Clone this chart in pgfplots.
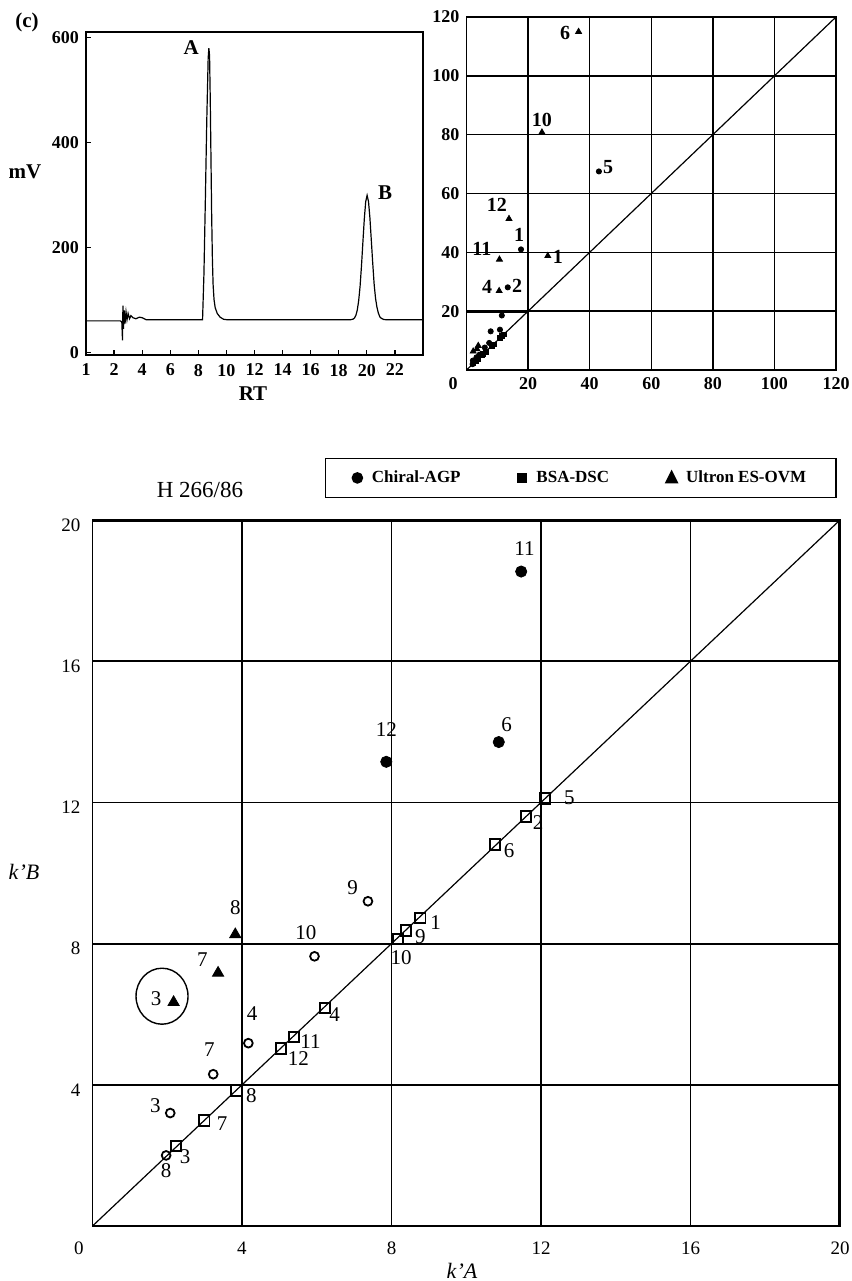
\documentclass[border=0pt]{standalone}
\usepackage{fontspec}
\setmainfont{Liberation Serif}
\usepackage{pgfplots}
\pgfplotsset{compat=1.18}
\newcommand{\fs}[1]{\fontsize{#1}{#1}\selectfont}
\begin{document}
\begin{tikzpicture}
\useasboundingbox (0,0) rectangle (426pt,-640.5pt);

% ---------------- Panel 1: chromatogram ----------------
\begin{axis}[
 at={(43pt,-177.5pt)}, anchor=south west,
 scale only axis, width=168.5pt, height=161.5pt,
 xmin=0, xmax=24, ymin=-5, ymax=610,
 xtick={0,2,...,22}, xticklabels={1,2,4,6,8,10,12,14,16,18,20,22},
 ytick={0,200,400,600},
 /pgf/number format/assume math mode=true,
 tick label style={font=\fs{9}\bfseries},
 xticklabel style={yshift=-1pt},
 tick align=inside, major tick length=2.5pt,
 xtick pos=bottom, ytick pos=left,
 axis line style={line width=0.7pt},
 tick style={line width=0.6pt, black},
]
\addplot[black, line width=0.6pt] coordinates {
(0,60) (2.45,60) (2.55,58) (2.60,23) (2.63,89) (2.67,45) (2.72,80) (2.78,55) (2.85,77) (2.92,62) (3.0,74) (3.1,64) (3.2,70) (3.35,66) (3.55,64) (3.8,67) (4.0,66) (4.3,62)
(8.30,62) (8.40,150) (8.50,290) (8.60,440) (8.70,560) (8.75,579) (8.80,565) (8.85,480) (8.90,370) (8.95,260) (9.00,180) (9.05,130) (9.12,100) (9.20,85) (9.35,74) (9.55,67) (9.80,63) (10.1,62)
(18.8,62) (19.02,63.3) (19.12,65.5) (19.22,70.5) (19.32,80.5) (19.42,98.5) (19.52,126) (19.62,165) (19.72,210) (19.82,254) (19.92,287) (20.02,299) (20.12,287) (20.22,256) (20.32,213) (20.42,170) (20.52,130) (20.62,103) (20.72,86) (20.82,75) (20.92,68) (21.02,65) (21.22,62.5) (21.5,62) (24,62)
};
\node[font=\fs{10.5}\bfseries] at (axis cs:7.5,581) {A};
\node[font=\fs{10.5}\bfseries] at (axis cs:21.3,304) {B};
\end{axis}
\node[font=\fs{10.5}\bfseries] at (13.5pt,-11pt) {(c)};
\node[font=\fs{10.5}\bfseries] at (12.5pt,-86pt) {mV};
\node[font=\fs{10.5}\bfseries] at (126.5pt,-197pt) {RT};

% ---------------- Panel 2: overview scatter ----------------
\begin{axis}[
 at={(233.25pt,-185pt)}, anchor=south west,
 scale only axis, width=184.75pt, height=176.5pt,
 xmin=0, xmax=120, ymin=0, ymax=120,
 xtick={0,20,...,120}, ytick={20,40,...,120},
 xticklabels={\llap{0\hspace{4.5pt}},20,40,60,80,100,120},
 /pgf/number format/assume math mode=true,
 tick label style={font=\fs{9}\bfseries},
 grid=major, major grid style={black, line width=0.7pt},
 major tick length=0pt,
 axis line style={line width=0.7pt},
]
\addplot[black, line width=0.6pt] coordinates {(0,0) (120,120)};
\draw[line width=1.4pt] (axis cs:0,20) -- (axis cs:20,20) -- (axis cs:20,0);
% Ultron ES-OVM
\addplot[only marks, mark=triangle*, mark size=1.7pt, black] coordinates {
(36.4,115) (24.5,80.8) (13.8,51.4) (10.7,37.6) (26.4,38.8) (10.6,26.9)
(3.82,8.26) (3.36,7.17) (2.17,6.34)};
% Chiral-AGP
\addplot[only marks, mark=*, mark size=1.3pt, black] coordinates {
(43.0,67.5) (17.7,41) (13.4,28.1) (11.47,18.54) (10.87,13.71) (7.86,13.15)
(7.37,9.2) (5.94,7.64) (4.17,5.18) (3.23,4.30) (2.08,3.2) (1.97,2.0)};
% BSA-DSC
\addplot[only marks, mark=square*, mark size=1.2pt, black] coordinates {
(8.77,8.72) (11.6,11.6) (2.23,2.27) (6.22,6.18) (12.1,12.11) (10.77,10.81)
(2.99,2.99) (3.85,3.84) (8.39,8.37) (8.17,8.12) (5.39,5.35) (5.04,5.03)};
\begin{scope}[font=\fs{10}\bfseries]
\node at (axis cs:32.0,114.6) {6};
\node at (axis cs:24.5,85) {10};
\node at (axis cs:46.0,69) {5};
\node at (axis cs:9.9,56.1) {12};
\node at (axis cs:17.1,45.9) {1};
\node at (axis cs:5.0,41.2) {11};
\node at (axis cs:29.7,38.4) {1};
\node at (axis cs:6.7,28.2) {4};
\node at (axis cs:16.4,28.6) {2};
\end{scope}
\end{axis}

% ---------------- Panel 3: main k'A vs k'B ----------------
\begin{axis}[
 at={(46.25pt,-613pt)}, anchor=south west,
 scale only axis, width=373.75pt, height=353pt,
 xmin=0, xmax=20, ymin=0, ymax=20,
 xtick={0,4,...,20}, ytick={4,8,...,20},
 xticklabels={\llap{0\hspace{4.5pt}},4,8,12,16,20},
 /pgf/number format/assume math mode=true,
 tick label style={font=\fs{9.5}},
 xticklabel style={yshift=-4.5pt},
 yticklabel style={xshift=-2.5pt, yshift=-2.5pt},
 grid=major, major grid style={black, line width=0.9pt},
 major tick length=0pt,
 axis line style={line width=0.8pt},
 legend columns=3,
 legend style={at={(rel axis cs:0.996,1.031)}, anchor=south east,
   draw=black, line width=0.8pt, inner xsep=13pt, inner ysep=4pt,
   font=\fs{8.5}\bfseries,
   /tikz/every even column/.append style={column sep=26pt}},
 legend cell align=left,
]
\addlegendimage{legend image code/.code={\fill (0.1cm,0cm) circle (2.5pt); \path (0.27cm,0cm);}}
\addlegendentry{Chiral-AGP}
\addlegendimage{legend image code/.code={\fill (0.1cm,0cm) ++(-2.3pt,-2.3pt) rectangle ++(4.6pt,4.6pt); \path (0.27cm,0cm);}}
\addlegendentry{BSA-DSC}
\addlegendimage{legend image code/.code={\fill (0.1cm,0cm) ++(-2.8pt,-2.3pt) -- ++(5.6pt,0) -- ++(-2.8pt,5.6pt) -- cycle; \path (0.27cm,0cm);}}
\addlegendentry{Ultron ES-OVM}

\addplot[forget plot, black, line width=0.6pt] coordinates {(0,0) (20,20)};
% BSA-DSC (open squares)
\addplot[forget plot, only marks, mark=square, mark size=2.6pt, black, mark options={line width=0.9pt}] coordinates {
(8.77,8.72) (11.6,11.6) (2.23,2.27) (6.22,6.18) (12.1,12.11) (10.77,10.81)
(2.99,2.99) (3.85,3.84) (8.39,8.37) (8.17,8.12) (5.39,5.35) (5.04,5.03)};
% open circles
\addplot[forget plot, only marks, mark=o, mark size=2.2pt, black, mark options={line width=0.9pt}] coordinates {
(7.37,9.2) (5.94,7.64) (4.17,5.18) (3.23,4.30) (2.08,3.2) (1.97,2.0)};
% Chiral-AGP (filled circles)
\addplot[forget plot, only marks, mark=*, mark size=2.8pt, black] coordinates {
(11.47,18.54) (10.87,13.71) (7.86,13.15)};
% Ultron ES-OVM (filled triangles)
\addplot[forget plot, only marks, mark=triangle*, mark size=3.2pt, black] coordinates {
(3.82,8.26) (3.36,7.17) (2.17,6.34)};

\draw[line width=0.7pt] (axis cs:1.86,6.51) ellipse [x radius=13pt, y radius=14pt];
\draw[line width=2.2pt] (rel axis cs:0,1) -- (rel axis cs:1,1) -- (rel axis cs:1,0);

\begin{scope}[font=\fs{10.5}]
\node at (axis cs:11.56,19.2) {11};
\node at (axis cs:7.86,14.07) {12};
\node at (axis cs:11.08,14.2) {6};
\node at (axis cs:12.76,12.14) {5};
\node at (axis cs:11.92,11.44) {2};
\node at (axis cs:11.15,10.64) {6};
\node at (axis cs:6.96,9.58) {9};
\node at (axis cs:9.18,8.59) {1};
\node at (axis cs:8.77,8.19) {9};
\node at (axis cs:8.26,7.6) {10};
\node at (axis cs:3.82,9.02) {8};
\node at (axis cs:5.71,8.31) {10};
\node at (axis cs:2.94,7.55) {7};
\node at (axis cs:1.70,6.43) {3};
\node at (axis cs:6.48,5.99) {4};
\node at (axis cs:4.27,6.02) {4};
\node at (axis cs:5.83,5.23) {11};
\node at (axis cs:5.51,4.73) {12};
\node at (axis cs:3.13,5.01) {7};
\node at (axis cs:4.25,3.70) {8};
\node at (axis cs:1.68,3.41) {3};
\node at (axis cs:3.47,2.91) {7};
\node at (axis cs:2.48,1.97) {3};
\node at (axis cs:1.97,1.57) {8};
\end{scope}
\end{axis}
\node[font=\fs{11.5}] at (100pt,-245pt) {H 266/86};
\node[font=\fs{11}\itshape] at (12pt,-436pt) {k'B};
\node[font=\fs{11}\itshape] at (231pt,-635.5pt) {k'A};
\end{tikzpicture}
\end{document}
